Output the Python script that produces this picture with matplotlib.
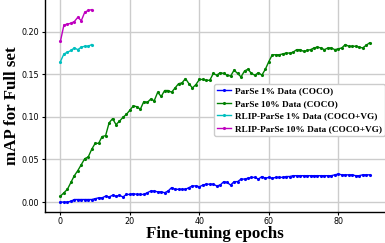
import matplotlib
matplotlib.use("Agg")
import matplotlib.pyplot as plt
import numpy as np

epochs_full = list(range(90))
epochs_short = list(range(10))

parse_1 = [0.000, 0.000, 0.000, 0.001, 0.003, 0.003, 0.003, 0.003, 0.003, 0.003,
           0.004, 0.005, 0.005, 0.007, 0.006, 0.008, 0.007, 0.008, 0.006, 0.009,
           0.009, 0.010, 0.009, 0.009, 0.009, 0.011, 0.013, 0.013, 0.012, 0.012,
           0.011, 0.013, 0.017, 0.015, 0.015, 0.015, 0.015, 0.017, 0.019, 0.019,
           0.018, 0.020, 0.021, 0.021, 0.021, 0.019, 0.020, 0.024, 0.023, 0.020,
           0.024, 0.024, 0.027, 0.027, 0.028, 0.029, 0.029, 0.027, 0.030, 0.028,
           0.029, 0.028, 0.029, 0.029, 0.029, 0.030, 0.030, 0.031, 0.031, 0.031,
           0.031, 0.031, 0.031, 0.031, 0.031, 0.031, 0.031, 0.031, 0.031, 0.032,
           0.033, 0.032, 0.032, 0.032, 0.032, 0.031, 0.031, 0.032, 0.032, 0.032]

parse_10 = [0.007, 0.011, 0.015, 0.023, 0.031, 0.037, 0.044, 0.051, 0.053, 0.062,
            0.069, 0.069, 0.077, 0.078, 0.093, 0.098, 0.091, 0.095, 0.0995, 0.103,
            0.108, 0.113, 0.112, 0.109, 0.118, 0.117, 0.121, 0.119, 0.129, 0.124,
            0.131, 0.131, 0.129, 0.134, 0.139, 0.140, 0.145, 0.139, 0.134, 0.138,
            0.144, 0.144, 0.143, 0.143, 0.151, 0.149, 0.152, 0.151, 0.149, 0.148,
            0.155, 0.151, 0.147, 0.154, 0.156, 0.151, 0.149, 0.152, 0.149, 0.156,
            0.165, 0.173, 0.173, 0.173, 0.174, 0.175, 0.175, 0.176, 0.179, 0.179,
            0.177, 0.178, 0.179, 0.181, 0.182, 0.181, 0.179, 0.181, 0.181, 0.179,
            0.180, 0.181, 0.185, 0.183, 0.183, 0.183, 0.182, 0.181, 0.184, 0.187]

rlip_1 = [0.165, 0.174, 0.176, 0.178, 0.181, 0.179, 0.182, 0.183, 0.183, 0.185]
rlip_10 = [0.189, 0.208, 0.209, 0.210, 0.212, 0.217, 0.213, 0.223, 0.225, 0.226]

labels = ["ParSe 1% Data (COCO)", "ParSe 10% Data (COCO)",
          "RLIP-ParSe 1% Data (COCO+VG)", "RLIP-ParSe 10% Data (COCO+VG)"]
colors = ["b", "g", "c", "m"]

fig = plt.figure(figsize=(3.85, 2.43), dpi=100)
ax = fig.add_axes([45 / 385, 31.3 / 243, 340 / 385, 211.7 / 243])

series = [(epochs_full, parse_1), (epochs_full, parse_10),
          (epochs_short, rlip_1), (epochs_short, rlip_10)]
for (xs, ys), lab, col in zip(series, labels, colors):
    ax.plot(xs, ys, color=col, marker='.', markersize=2.5, linewidth=1.0, label=lab)

ax.grid(True, color='#cccccc', linewidth=1.0)
ax.set_axisbelow(True)
for s in ['top', 'right']:
    ax.spines[s].set_visible(False)
for s in ['left', 'bottom']:
    ax.spines[s].set_color('black')
    ax.spines[s].set_linewidth(1.0)

ax.set_xticks([0, 20, 40, 60, 80])
ax.set_yticks([0.00, 0.05, 0.10, 0.15, 0.20])
ax.set_yticklabels(["0.00", "0.05", "0.10", "0.15", "0.20"])
ax.tick_params(labelsize=5.8, length=2.5, width=0.8, pad=1.5, colors='black')

ax.set_xlabel("Fine-tuning epochs", fontfamily="Liberation Serif", fontweight="bold",
              fontsize=12.2, labelpad=0)
ax.set_ylabel("mAP for Full set", fontfamily="Liberation Serif", fontweight="bold",
              fontsize=12.2, labelpad=1)

leg = ax.legend(loc='lower right', bbox_to_anchor=(1.0, 0.357),
                prop={'family': 'Liberation Serif', 'weight': 'bold', 'size': 6.7},
                handlelength=1.6, handletextpad=0.4, labelspacing=0.45,
                borderpad=0.3, frameon=True, fancybox=True, framealpha=1.0,
                edgecolor='#cccccc', borderaxespad=0.0)

fig.savefig("out.png", dpi=100)
